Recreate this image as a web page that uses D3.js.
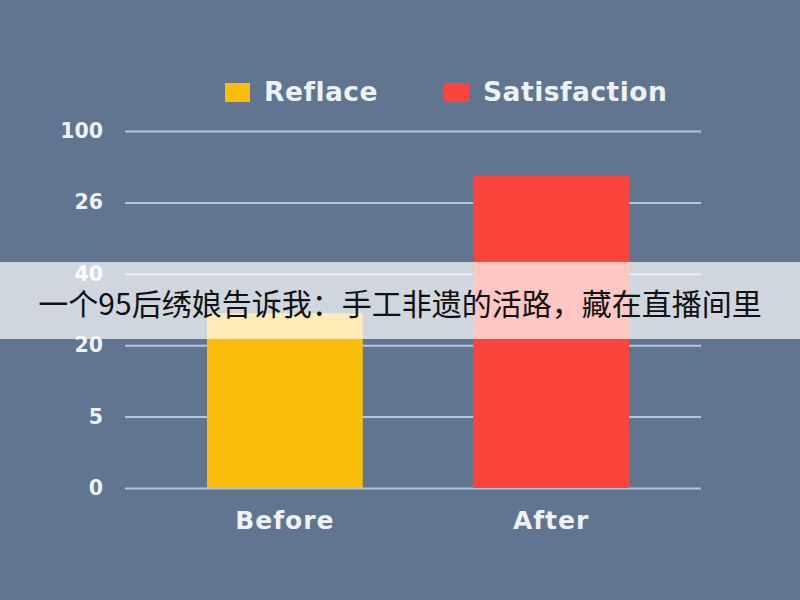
<!DOCTYPE html>
<html>
<head>
<meta charset="utf-8">
<script src="https://cdn.jsdelivr.net/npm/d3@7"></script>
<style>
  html, body { margin: 0; padding: 0; background: #5f7590; }
  svg { display: block; }
</style>
</head>
<body>
<div id="chart"></div>
<script>
const categories = ["Before", "After"];
const values = [49, 87.5];
const barColors = ["#fbbd0b", "#fb443b"];
const legendLabels = ["Reflace", "Satisfaction"];
const tickValues = [0, 20, 40, 60, 80, 100];
const tickLabels = ["0", "5", "20", "40", "26", "100"];
const caption = "一个95后绣娘告诉我：手工非遗的活路，藏在直播间里";

const W = 800, H = 600;
const margin = { top: 131, right: 99, bottom: 112, left: 125 };
const width = W - margin.left - margin.right;
const height = H - margin.top - margin.bottom;
const labelFont = "'DejaVu Sans', Inter, sans-serif";

const svg = d3.select("#chart").append("svg")
  .attr("width", W).attr("height", H);

svg.append("rect").attr("width", W).attr("height", H).attr("fill", "#5f7590");

const g = svg.append("g").attr("transform", `translate(${margin.left},${margin.top})`);

const x = d3.scaleBand().domain(categories).range([82, width - 72]).paddingInner(0.415).paddingOuter(0);
const y = d3.scaleLinear().domain([0, 100]).range([height, 0]);

// grid lines + tick labels
const yAxis = g.append("g")
  .call(d3.axisLeft(y).tickValues(tickValues).tickSize(-width).tickPadding(22)
    .tickFormat((d, i) => tickLabels[i]));
yAxis.select(".domain").remove();
yAxis.selectAll(".tick line").attr("stroke", "#b9c5d6").attr("stroke-width", 2);
yAxis.selectAll(".tick text")
  .attr("fill", "#eef1f5")
  .style("font-family", labelFont)
  .style("font-weight", "bold")
  .style("font-size", "20.5px");

// bars
g.selectAll(".bar").data(values).enter().append("rect")
  .attr("class", "bar")
  .attr("x", (d, i) => x(categories[i]))
  .attr("y", d => y(d))
  .attr("width", x.bandwidth())
  .attr("height", d => height - y(d))
  .attr("fill", (d, i) => barColors[i]);

// x labels
const xAxis = g.append("g").attr("transform", `translate(0,${height})`)
  .call(d3.axisBottom(x).tickSize(0).tickPadding(23));
xAxis.select(".domain").remove();
xAxis.selectAll(".tick text")
  .attr("fill", "#eef1f5")
  .style("font-family", labelFont)
  .style("font-weight", "bold")
  .style("font-size", "25px")
  .style("letter-spacing", "1px");

// legend
const legendX = [225, 444];
const legend = svg.append("g");
legendLabels.forEach((lab, i) => {
  legend.append("rect")
    .attr("x", legendX[i]).attr("y", 83)
    .attr("width", 25).attr("height", 19)
    .attr("fill", barColors[i]);
  legend.append("text")
    .attr("x", legendX[i] + 39).attr("y", 101)
    .attr("fill", "#eef1f5")
    .style("font-family", labelFont)
    .style("font-weight", "bold")
    .style("font-size", "26.5px")
    .style("letter-spacing", "0.5px")
    .text(lab);
});

// caption banner
svg.append("rect")
  .attr("x", 0).attr("y", 262).attr("width", W).attr("height", 77)
  .attr("fill", "#ffffff").attr("opacity", 0.7);
svg.append("text")
  .attr("x", W / 2).attr("y", 315)
  .attr("text-anchor", "middle")
  .attr("fill", "#111")
  .style("font-family", "'Noto Sans CJK SC', sans-serif")
  .style("font-size", "30px")
  .text(caption);
</script>
</body>
</html>
